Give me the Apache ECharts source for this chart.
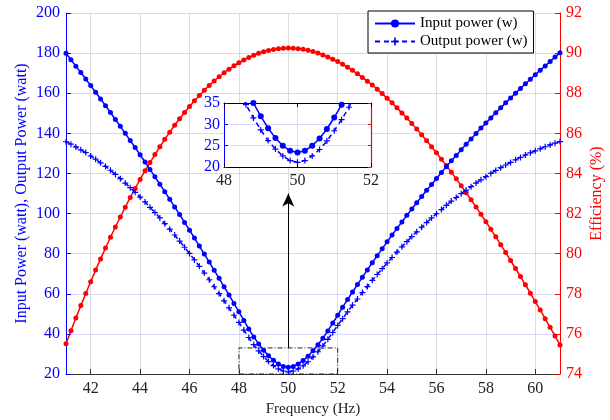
<!DOCTYPE html>
<html><head><meta charset="utf-8">
<script src="https://cdn.jsdelivr.net/npm/echarts@6/dist/echarts.min.js"></script>
<style>html,body{margin:0;padding:0;background:#fff}#c{width:610px;height:420px}</style>
</head><body><div id="c"></div>
<script>
const freq = [41,41.2,41.4,41.6,41.8,42,42.2,42.4,42.6,42.8,43,43.2,43.4,43.6,43.8,44,44.2,44.4,44.6,44.8,45,45.2,45.4,45.6,45.8,46,46.2,46.4,46.6,46.8,47,47.2,47.4,47.6,47.8,48,48.2,48.4,48.6,48.8,49,49.2,49.4,49.6,49.8,50,50.2,50.4,50.6,50.8,51,51.2,51.4,51.6,51.8,52,52.2,52.4,52.6,52.8,53,53.2,53.4,53.6,53.8,54,54.2,54.4,54.6,54.8,55,55.2,55.4,55.6,55.8,56,56.2,56.4,56.6,56.8,57,57.2,57.4,57.6,57.8,58,58.2,58.4,58.6,58.8,59,59.2,59.4,59.6,59.8,60,60.2,60.4,60.6,60.8,61];
const inputPower = [179.9,176.7,173.5,170.3,167.1,163.8,160.5,157.1,153.8,150.4,146.9,143.5,140.0,136.4,132.9,129.3,125.7,122.0,118.3,114.6,110.9,107.1,103.3,99.5,95.6,91.7,87.8,83.8,79.8,75.8,71.7,67.7,63.5,59.4,55.2,51.0,46.7,42.5,38.5,35.0,31.9,29.1,26.8,25.0,23.8,
  23.4,
  23.8,25.0,26.7,28.9,31.6,34.6,37.8,41.5,45.4,49.3,53.3,57.1,60.9,64.6,68.3,71.9,75.5,79.0,82.4,85.9,89.3,92.6,95.8,99.1,102.3,105.4,108.5,111.6,114.5,117.5,120.5,123.4,126.3,129.0,131.8,134.5,137.2,139.9,142.6,145.1,147.7,150.3,152.7,155.2,157.6,160.0,162.4,164.7,167.0,169.2,171.5,173.6,175.8,178.0,180.2];
const outputPower = [135.8,134.6,133.2,131.8,130.4,128.7,127.1,125.3,123.5,121.6,119.5,117.4,115.2,112.9,110.6,108.2,105.8,103.1,100.5,97.8,95.0,92.2,89.3,86.3,83.2,80.1,76.9,73.7,70.3,67.0,63.5,60.1,56.5,53.0,49.3,45.7,41.9,38.2,34.6,31.5,28.7,26.2,24.2,22.6,21.5,
  21.1,
  21.5,22.6,24.1,26.1,28.5,31.1,34.0,37.3,40.7,44.2,47.6,51.0,54.3,57.4,60.6,63.6,66.7,69.6,72.5,75.4,78.1,80.8,83.4,86.0,88.5,90.9,93.2,95.5,97.8,99.9,102.0,104.1,106.2,108.0,109.9,111.7,113.4,115.2,116.8,118.4,120.0,121.5,122.9,124.2,125.5,126.8,128.0,129.2,130.3,131.3,132.3,133.3,134.2,135.1,135.9];
const efficiency = [75.51,76.16,76.79,77.41,78.01,78.60,79.18,79.74,80.28,80.82,81.33,81.83,82.32,82.80,83.25,83.70,84.13,84.54,84.94,85.33,85.70,86.06,86.40,86.73,87.04,87.34,87.62,87.89,88.15,88.39,88.61,88.82,89.02,89.20,89.37,89.52,89.66,89.78,89.89,89.99,90.07,90.13,90.18,90.22,90.24,
  90.25,
  90.24,90.22,90.19,90.14,90.08,90.00,89.91,89.81,89.70,89.58,89.44,89.30,89.14,88.97,88.79,88.60,88.41,88.20,87.98,87.75,87.52,87.27,87.02,86.76,86.49,86.21,85.93,85.63,85.33,85.03,84.71,84.39,84.06,83.73,83.39,83.04,82.69,82.33,81.96,81.59,81.22,80.84,80.45,80.06,79.66,79.26,78.86,78.45,78.03,77.61,77.19,76.76,76.33,75.89,75.45];
const zoomBox = [[48, 20], [52, 33]];
const arrow = [[50, 33], [50, 110]];

const FONT = 'Liberation Serif';
const BLUE = '#0000ff', RED = '#ff0000';
const plus = 'path://M4,0h2v4h4v2h-4v4h-2v-4h-4v-2h4z';
const pts = arr => freq.map((f, i) => [f, arr[i]]);

const chart = echarts.init(document.getElementById('c'), null, {renderer: 'canvas'});
chart.setOption({
  animation: false,
  backgroundColor: '#fff',
  textStyle: {fontFamily: FONT},
  legend: {
    left: 368, top: 11, orient: 'vertical', itemGap: 3,
    backgroundColor: '#fff', borderColor: '#000', borderWidth: 1, padding: [5, 6, 4, 6],
    itemWidth: 40, itemHeight: 10,
    textStyle: {fontFamily: FONT, fontSize: 15, color: '#000'},
    data: ['Input power (w)', 'Output power (w)']
  },
  grid: [
    {left: 66, top: 13, width: 494, height: 361, containLabel: false, outerBoundsMode: 'none'},
    {left: 224, top: 103, width: 147, height: 64, show: true, backgroundColor: '#fff', borderWidth: 0, z: 5,
     containLabel: false, outerBoundsMode: 'none'}
  ],
  xAxis: [
    {type: 'value', gridIndex: 0, min: 41, max: 61, splitNumber: 10,
     axisLine: {lineStyle: {color: '#333', width: 1}},
     axisTick: {inside: true, length: 5, lineStyle: {color: '#333'}},
     axisLabel: {showMinLabel: false, showMaxLabel: false, fontSize: 16, color: '#222', fontFamily: FONT, margin: 7},
     splitLine: {show: true, lineStyle: {color: '#dcdcdc', width: 1}},
     name: 'Frequency (Hz)', nameLocation: 'middle', nameGap: 27,
     nameTextStyle: {fontSize: 15, color: '#222', fontFamily: FONT}},
    {type: 'value', gridIndex: 1, min: 48, max: 52, interval: 2, z: 6,
     axisLine: {lineStyle: {color: '#000', width: 1}},
     axisTick: {inside: true, length: 4, lineStyle: {color: '#000'}},
     axisLabel: {fontSize: 16, color: '#222', fontFamily: FONT, margin: 6},
     splitLine: {show: true, lineStyle: {color: '#dcdcdc'}}},
    {type: 'value', gridIndex: 1, position: 'top', min: 48, max: 52, interval: 2, z: 6,
     axisLine: {lineStyle: {color: '#000', width: 1}},
     axisTick: {inside: true, length: 4, lineStyle: {color: '#000'}},
     axisLabel: {show: false}, splitLine: {show: false}}
  ],
  yAxis: [
    {type: 'value', gridIndex: 0, position: 'left', min: 20, max: 200, interval: 20,
     axisLine: {show: true, lineStyle: {color: BLUE, width: 1}},
     axisTick: {show: true, inside: true, length: 5, lineStyle: {color: BLUE}},
     axisLabel: {fontSize: 16, color: BLUE, fontFamily: FONT, margin: 6},
     splitLine: {show: true, lineStyle: {color: '#d6d6ff', width: 1}},
     name: 'Input Power (watt), Output Power (watt)', nameLocation: 'middle', nameRotate: 90, nameGap: 36,
     nameMoveOverlap: false,
     nameTextStyle: {fontSize: 16, color: BLUE, fontFamily: FONT}},
    {type: 'value', gridIndex: 0, position: 'right', min: 74, max: 92, interval: 2,
     axisLine: {show: true, lineStyle: {color: RED, width: 1}},
     axisTick: {show: true, inside: true, length: 5, lineStyle: {color: RED}},
     axisLabel: {fontSize: 16, color: RED, fontFamily: FONT, margin: 6},
     splitLine: {show: false},
     name: 'Efficiency (%)', nameLocation: 'middle', nameRotate: 90, nameGap: 29,
     nameMoveOverlap: false,
     nameTextStyle: {fontSize: 16, color: RED, fontFamily: FONT}},
    {type: 'value', gridIndex: 1, position: 'left', min: 20, max: 35, interval: 5, z: 6,
     axisLine: {show: true, lineStyle: {color: BLUE, width: 1}},
     axisTick: {show: true, inside: true, length: 4, lineStyle: {color: BLUE}},
     axisLabel: {fontSize: 16, color: BLUE, fontFamily: FONT, margin: 4},
     splitLine: {show: true, lineStyle: {color: '#d6d6ff'}}},
    {type: 'value', gridIndex: 1, position: 'right', min: 20, max: 35, interval: 5, z: 6,
     axisLine: {show: true, lineStyle: {color: RED, width: 1.2}},
     axisTick: {show: true, inside: true, length: 3, lineStyle: {color: RED}},
     axisLabel: {show: false}, splitLine: {show: false}}
  ],
  series: [
    {name: 'Input power (w)', type: 'line', xAxisIndex: 0, yAxisIndex: 0, data: pts(inputPower),
     symbol: 'circle', symbolSize: 5, color: BLUE, lineStyle: {width: 1.5, color: BLUE}, z: 3,
     markArea: {silent: true, itemStyle: {color: 'rgba(0,0,0,0)', borderColor: '#222', borderWidth: 1, borderType: [5, 2, 1, 2]},
       data: [[{coord: zoomBox[0]}, {coord: zoomBox[1]}]]},
     markLine: {silent: true, symbol: ['none', 'arrow'], symbolSize: [9, 13], label: {show: false},
       lineStyle: {color: '#000', width: 1, type: 'solid'},
       data: [[{coord: arrow[0]}, {coord: arrow[1]}]]}},
    {name: 'Output power (w)', type: 'line', xAxisIndex: 0, yAxisIndex: 0, data: pts(outputPower),
     symbol: plus, symbolSize: 6, color: BLUE, lineStyle: {width: 1.5, color: BLUE, type: [5, 4]}, z: 3},
    {name: 'Efficiency', type: 'line', xAxisIndex: 0, yAxisIndex: 1, data: pts(efficiency),
     symbol: 'circle', symbolSize: 5, color: RED, lineStyle: {width: 1.5, color: RED}, z: 2},
    {name: 'Input power (w)', type: 'line', xAxisIndex: 1, yAxisIndex: 2, data: pts(inputPower), clip: true,
     symbol: 'circle', symbolSize: 6, color: BLUE, lineStyle: {width: 1.5, color: BLUE}, z: 7},
    {name: 'Output power (w)', type: 'line', xAxisIndex: 1, yAxisIndex: 2, data: pts(outputPower), clip: true,
     symbol: plus, symbolSize: 6, color: BLUE, lineStyle: {width: 1.5, color: BLUE, type: [5, 4]}, z: 7}
  ]
});
</script></body></html>
